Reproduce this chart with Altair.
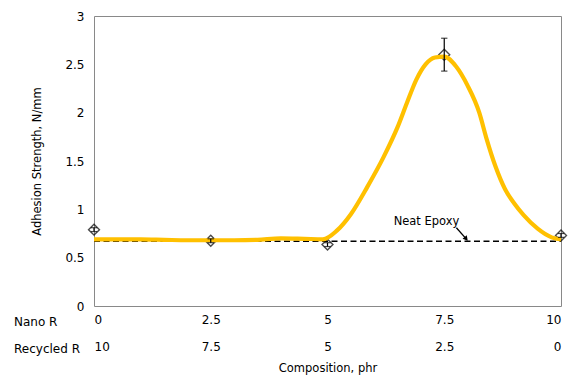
import altair as alt
import pandas as pd

# ---- data ----
curve_x = [0, 0.5, 1, 1.5, 2, 2.5, 3, 3.5, 4, 4.5, 4.9, 5.2, 5.5, 5.85, 6.2, 6.5,
           6.7, 6.9, 7.1, 7.3, 7.5, 7.75, 8.0, 8.25, 8.4, 8.6, 8.8, 9.0, 9.2, 9.5, 9.8, 10]
curve_y = [0.69, 0.69, 0.69, 0.685, 0.68, 0.68, 0.68, 0.685, 0.70, 0.695, 0.69, 0.78,
           0.95, 1.23, 1.54, 1.85, 2.10, 2.34, 2.50, 2.57, 2.58, 2.48, 2.28, 2.00,
           1.74, 1.44, 1.21, 1.06, 0.94, 0.80, 0.71, 0.69]

nano_r = [0, 2.5, 5, 7.5, 10]
recycled_r = [10, 7.5, 5, 2.5, 0]
strength = [0.79, 0.675, 0.635, 2.60, 0.73]
err = [0.02, 0.02, 0.02, 0.17, 0.02]

neat_epoxy = 0.67
neat_label = "Neat Epoxy"
neat_label_pos = [7.12, 0.87]
arrow_from = [7.76, 0.81]
arrow_to = [7.97, 0.695]

y_ticks = [0, 0.5, 1, 1.5, 2, 2.5, 3]
row_labels = ["Nano R", "Recycled R"]

FONT = "DejaVu Sans"

curve = pd.DataFrame({"x": curve_x, "y": curve_y})
pts = pd.DataFrame({"x": nano_r, "r": recycled_r, "y": strength, "e": err})
pts["lo"] = pts["y"] - pts["e"]
pts["hi"] = pts["y"] + pts["e"]
neat = pd.DataFrame({"x": [0, 10], "y": [neat_epoxy, neat_epoxy]})
lab = pd.DataFrame({"x": [neat_label_pos[0]], "y": [neat_label_pos[1]], "t": [neat_label]})
arr = pd.DataFrame({"x": [arrow_from[0]], "y": [arrow_from[1]],
                    "x2": [arrow_to[0]], "y2": [arrow_to[1]]})

xs = alt.Scale(domain=[0, 10], nice=False, zero=False)
ys = alt.Scale(domain=[0, 3], nice=False, zero=True)

x_axis = alt.Axis(values=nano_r, title="Composition, phr",
                  labelExpr="['' + datum.value, '' + (10 - datum.value)]",
                  labelPadding=8, labelLineHeight=27, titlePadding=10)
y_axis = alt.Axis(values=y_ticks, title="Adhesion Strength, N/mm",
                  labelExpr="'' + datum.value", labelPadding=10, titlePadding=22)

dashed = alt.Chart(neat).mark_line(color="black", strokeWidth=1.5, strokeDash=[6, 3.5]).encode(
    x=alt.X("x:Q", scale=xs, axis=x_axis),
    y=alt.Y("y:Q", scale=ys, axis=y_axis),
)

diamonds = alt.Chart(pts).mark_point(shape="diamond", size=120, filled=False,
                                     color="black", strokeWidth=1.4).encode(
    x=alt.X("x:Q", scale=xs), y=alt.Y("y:Q", scale=ys))

line = alt.Chart(curve).mark_line(color="#FFC000", strokeWidth=4.2,
                                  interpolate="monotone").encode(
    x=alt.X("x:Q", scale=xs), y=alt.Y("y:Q", scale=ys))

ebar = alt.Chart(pts).mark_rule(color="black", strokeWidth=1.2).encode(
    x=alt.X("x:Q", scale=xs), y=alt.Y("lo:Q", scale=ys), y2="hi:Q")
cap_lo = alt.Chart(pts).mark_point(shape="stroke", size=40, color="black",
                                   strokeWidth=1.2).encode(
    x=alt.X("x:Q", scale=xs), y=alt.Y("lo:Q", scale=ys))
cap_hi = alt.Chart(pts).mark_point(shape="stroke", size=40, color="black",
                                   strokeWidth=1.2).encode(
    x=alt.X("x:Q", scale=xs), y=alt.Y("hi:Q", scale=ys))

label = alt.Chart(lab).mark_text(font=FONT, fontSize=11.5, color="black").encode(
    x=alt.X("x:Q", scale=xs), y=alt.Y("y:Q", scale=ys), text="t:N")

arrow_line = alt.Chart(arr).mark_rule(color="black", strokeWidth=1.3).encode(
    x=alt.X("x:Q", scale=xs), y=alt.Y("y:Q", scale=ys), x2="x2:Q", y2="y2:Q")
arrow_head = alt.Chart(arr).mark_point(shape="triangle-right", size=30, filled=True,
                                       color="black", angle=50, opacity=1).encode(
    x=alt.X("x2:Q", scale=xs), y=alt.Y("y2:Q", scale=ys))

row1 = alt.Chart(pd.DataFrame({"t": [row_labels[0]]})).mark_text(
    font=FONT, fontSize=12, color="black", align="left", baseline="middle").encode(
    x=alt.value(-80), y=alt.value(306), text="t:N")
row2 = alt.Chart(pd.DataFrame({"t": [row_labels[1]]})).mark_text(
    font=FONT, fontSize=12, color="black", align="left", baseline="middle").encode(
    x=alt.value(-80), y=alt.value(333), text="t:N")

chart = alt.layer(dashed, diamonds, line, ebar, cap_lo, cap_hi, label,
                  arrow_line, arrow_head, row1, row2).properties(
    width=467, height=290,
    autosize=alt.AutoSizeParams(type="none"),
    padding={"left": 86, "top": 8, "right": 7, "bottom": 72},
).configure_view(stroke="#898989", strokeWidth=1).configure_axis(
    domain=False, ticks=False, grid=False,
    labelFont=FONT, labelFontSize=12, labelColor="black",
    titleFont=FONT, titleFontSize=11.5, titleFontWeight="normal", titleColor="black",
)

chart.save("out.html", embed_options={"renderer": "svg", "actions": False})
